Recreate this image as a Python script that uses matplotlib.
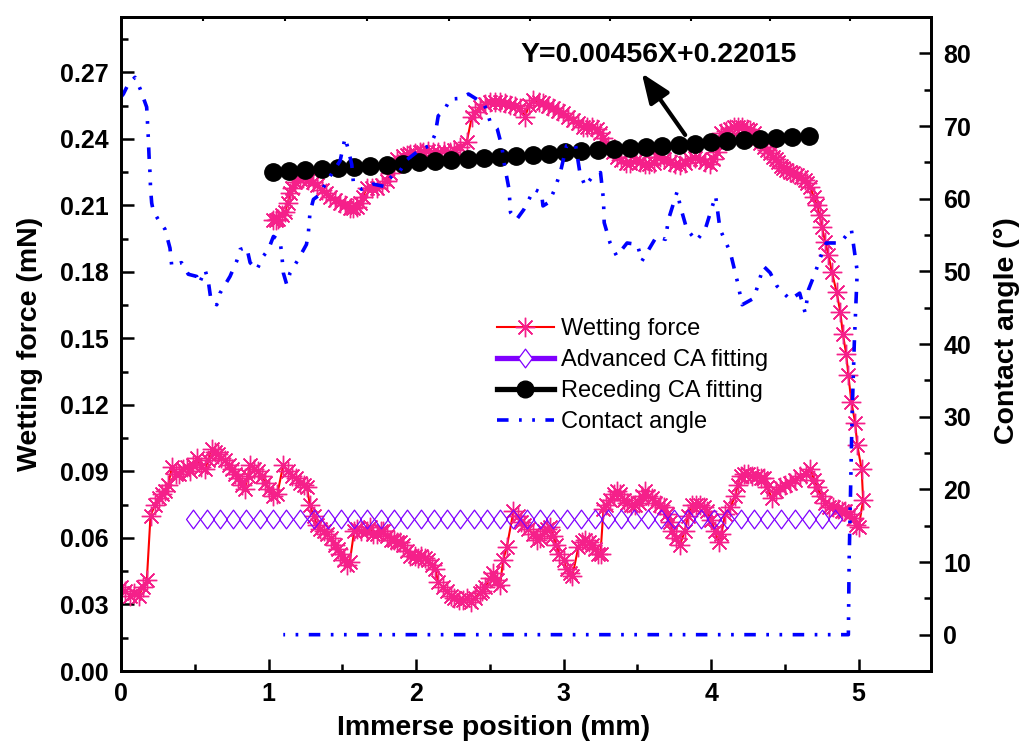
import numpy as np
import matplotlib
matplotlib.use("Agg")
import matplotlib.pyplot as plt
from matplotlib.lines import Line2D
from matplotlib.path import Path
from matplotlib.ticker import MultipleLocator, FormatStrFormatter

plt.rcParams['font.family'] = ['Liberation Sans', 'DejaVu Sans']

# wetting force (mN): immersion branch, then withdrawal branch
immersion = [
    (0.00, 0.038), (0.03, 0.036), (0.06, 0.034), (0.09, 0.035), (0.12, 0.034),
    (0.15, 0.038), (0.175, 0.041), (0.20, 0.070), (0.23, 0.075), (0.255, 0.078),
    (0.28, 0.080), (0.30, 0.081), (0.32, 0.084), (0.345, 0.092), (0.37, 0.089),
    (0.39, 0.089), (0.42, 0.091), (0.445, 0.092), (0.47, 0.090), (0.49, 0.093),
    (0.515, 0.096), (0.54, 0.092), (0.57, 0.091), (0.59, 0.095), (0.615, 0.100),
    (0.635, 0.099), (0.655, 0.098), (0.68, 0.096), (0.705, 0.095), (0.73, 0.093),
    (0.75, 0.091), (0.775, 0.089), (0.795, 0.087), (0.82, 0.084), (0.84, 0.082),
    (0.86, 0.088), (0.875, 0.093), (0.90, 0.091), (0.93, 0.090), (0.955, 0.088),
    (0.976, 0.085), (1.00, 0.082), (1.03, 0.079), (1.06, 0.080), (1.10, 0.093),
    (1.13, 0.090), (1.157, 0.088), (1.185, 0.087), (1.214, 0.085), (1.24, 0.084),
    (1.26, 0.083), (1.28, 0.075), (1.305, 0.070), (1.327, 0.066), (1.35, 0.064),
    (1.375, 0.063), (1.395, 0.062), (1.42, 0.060), (1.45, 0.057), (1.47, 0.055),
    (1.485, 0.053), (1.51, 0.050), (1.53, 0.048), (1.55, 0.049), (1.58, 0.063),
    (1.60, 0.064), (1.63, 0.063), (1.666, 0.063), (1.69, 0.065), (1.71, 0.062),
    (1.733, 0.062), (1.76, 0.063), (1.778, 0.063), (1.80, 0.061), (1.83, 0.059),
    (1.85, 0.059), (1.87, 0.058), (1.89, 0.058), (1.914, 0.057), (1.94, 0.054),
    (1.96, 0.052), (1.99, 0.052), (2.01, 0.051), (2.03, 0.052), (2.06, 0.051),
    (2.08, 0.050), (2.105, 0.048), (2.13, 0.046), (2.15, 0.040), (2.18, 0.038),
    (2.21, 0.036), (2.24, 0.034), (2.26, 0.033), (2.29, 0.032), (2.32, 0.032),
    (2.345, 0.033), (2.37, 0.031), (2.40, 0.033), (2.43, 0.035), (2.45, 0.036),
    (2.47, 0.038), (2.50, 0.042), (2.524, 0.044), (2.55, 0.041), (2.57, 0.039),
    (2.59, 0.050), (2.615, 0.056), (2.66, 0.072), (2.69, 0.070), (2.71, 0.067),
    (2.73, 0.066), (2.76, 0.064), (2.795, 0.062), (2.82, 0.059), (2.84, 0.060),
    (2.87, 0.063), (2.89, 0.064), (2.91, 0.065), (2.93, 0.061), (2.95, 0.057),
    (2.97, 0.053), (3.00, 0.050), (3.02, 0.046), (3.04, 0.044), (3.06, 0.043),
    (3.10, 0.056), (3.125, 0.058), (3.146, 0.059), (3.17, 0.058), (3.19, 0.057),
    (3.21, 0.055), (3.236, 0.053), (3.25, 0.053), (3.27, 0.073), (3.29, 0.075),
    (3.315, 0.077), (3.34, 0.080), (3.36, 0.081), (3.383, 0.080), (3.41, 0.077),
    (3.43, 0.076), (3.46, 0.075), (3.485, 0.075), (3.51, 0.076), (3.53, 0.079),
    (3.553, 0.081), (3.575, 0.079), (3.598, 0.078), (3.62, 0.076), (3.654, 0.075),
    (3.68, 0.074), (3.70, 0.071), (3.72, 0.067), (3.733, 0.063), (3.76, 0.060),
    (3.79, 0.057), (3.82, 0.063), (3.845, 0.070), (3.869, 0.075), (3.90, 0.075),
    (3.925, 0.075), (3.95, 0.074), (3.97, 0.072), (4.00, 0.068), (4.027, 0.063),
    (4.05, 0.058), (4.07, 0.062), (4.095, 0.071), (4.13, 0.074), (4.163, 0.079),
    (4.18, 0.084), (4.20, 0.088), (4.225, 0.089), (4.253, 0.089), (4.28, 0.088),
    (4.31, 0.088), (4.335, 0.087), (4.355, 0.087), (4.38, 0.083), (4.41, 0.078),
    (4.44, 0.081), (4.468, 0.083), (4.50, 0.084), (4.536, 0.085), (4.57, 0.086),
    (4.603, 0.088), (4.64, 0.089), (4.671, 0.091), (4.70, 0.086), (4.717, 0.083),
    (4.745, 0.079), (4.773, 0.076), (4.80, 0.074), (4.829, 0.074), (4.86, 0.073),
    (4.885, 0.072), (4.908, 0.072), (4.94, 0.071), (4.965, 0.069), (4.98, 0.066),
    (5.00, 0.065),
]
withdrawal = [
    (5.03, 0.077), (5.02, 0.091), (4.99, 0.102), (4.976, 0.112), (4.95, 0.1215),
    (4.93, 0.1335), (4.915, 0.143), (4.893, 0.152), (4.875, 0.162), (4.85, 0.171),
    (4.818, 0.180), (4.795, 0.1876), (4.773, 0.1936), (4.75, 0.2004), (4.735, 0.2057),
    (4.716, 0.2102), (4.694, 0.214), (4.671, 0.2184), (4.65, 0.220), (4.637, 0.2215),
    (4.61, 0.223), (4.58, 0.2237), (4.555, 0.2245), (4.535, 0.2252), (4.51, 0.226),
    (4.49, 0.2268), (4.47, 0.228), (4.456, 0.2298), (4.44, 0.231), (4.42, 0.232),
    (4.40, 0.2335), (4.377, 0.235), (4.355, 0.2365), (4.33, 0.238), (4.31, 0.240),
    (4.287, 0.2425), (4.265, 0.244), (4.242, 0.2447), (4.21, 0.2452), (4.185, 0.2455),
    (4.155, 0.2452), (4.128, 0.2447), (4.10, 0.2437), (4.07, 0.2425), (4.055, 0.238),
    (4.04, 0.234), (4.015, 0.231), (3.993, 0.2289), (3.96, 0.2295), (3.925, 0.231),
    (3.89, 0.2312), (3.857, 0.231), (3.82, 0.229), (3.79, 0.2282), (3.755, 0.2287),
    (3.722, 0.2297), (3.68, 0.231), (3.655, 0.232), (3.632, 0.232), (3.61, 0.229),
    (3.58, 0.2285), (3.55, 0.2288), (3.52, 0.2295), (3.49, 0.2305), (3.45, 0.229),
    (3.42, 0.229), (3.39, 0.2305), (3.36, 0.232), (3.335, 0.234), (3.30, 0.237),
    (3.27, 0.2402), (3.245, 0.2425), (3.225, 0.2447), (3.19, 0.2452), (3.16, 0.2455),
    (3.134, 0.2455), (3.10, 0.247), (3.066, 0.2485), (3.03, 0.250), (2.999, 0.2515),
    (2.965, 0.2527), (2.93, 0.2538), (2.895, 0.2548), (2.863, 0.256), (2.83, 0.2568),
    (2.795, 0.2575), (2.765, 0.2555), (2.74, 0.250), (2.705, 0.2538), (2.67, 0.2548),
    (2.637, 0.2553), (2.60, 0.256), (2.57, 0.2568), (2.535, 0.2568), (2.50, 0.2568),
    (2.465, 0.2558), (2.434, 0.2545), (2.40, 0.252), (2.378, 0.250), (2.344, 0.2388),
    (2.30, 0.2365), (2.26, 0.235), (2.23, 0.2342), (2.19, 0.2345), (2.15, 0.2342),
    (2.117, 0.2342), (2.08, 0.2345), (2.05, 0.234), (2.027, 0.2342), (1.99, 0.2335),
    (1.96, 0.233), (1.937, 0.2327), (1.91, 0.2325), (1.87, 0.231), (1.85, 0.228),
    (1.823, 0.2245), (1.80, 0.221), (1.77, 0.219), (1.733, 0.2177), (1.70, 0.218),
    (1.666, 0.2177), (1.64, 0.214), (1.62, 0.211), (1.60, 0.2095), (1.575, 0.209),
    (1.553, 0.2087), (1.52, 0.210), (1.485, 0.211), (1.45, 0.2125), (1.417, 0.214),
    (1.39, 0.2155), (1.36, 0.217), (1.33, 0.219), (1.304, 0.2207), (1.27, 0.2215),
    (1.236, 0.2222), (1.21, 0.222), (1.18, 0.2207), (1.16, 0.218), (1.146, 0.2155),
    (1.13, 0.211), (1.112, 0.2072), (1.09, 0.2055), (1.067, 0.204), (1.05, 0.2035),
    (1.033, 0.2034),
]

# advanced CA fitting (open diamonds)
adv_fit_x = [0.49, 0.58, 0.67, 0.76, 0.85, 0.94, 1.03, 1.12, 1.21, 1.31, 1.40, 1.49,
             1.58, 1.67, 1.76, 1.85, 1.94, 2.03, 2.12, 2.21, 2.30, 2.39, 2.48, 2.57,
             2.66, 2.75, 2.84, 2.93, 3.02, 3.12, 3.21, 3.30, 3.39, 3.48, 3.57, 3.66,
             3.75, 3.84, 3.93, 4.02, 4.11, 4.20, 4.29, 4.38, 4.47, 4.57, 4.66, 4.75, 4.84]
adv_fit_y = [0.0686] * len(adv_fit_x)

# receding CA fitting (filled circles), Y=0.00456X+0.22015
rec_fit_x = [1.03, 1.14, 1.25, 1.36, 1.47, 1.58, 1.69, 1.80, 1.91, 2.02, 2.13, 2.24,
             2.35, 2.46, 2.57, 2.68, 2.79, 2.90, 3.01, 3.12, 3.23, 3.34, 3.45, 3.56,
             3.67, 3.78, 3.89, 4.00, 4.11, 4.22, 4.33, 4.44, 4.55, 4.66]
rec_fit_y = [0.2249, 0.2254, 0.2259, 0.2264, 0.2269, 0.2274, 0.2279, 0.2284, 0.2289,
             0.2294, 0.2299, 0.2304, 0.2309, 0.2314, 0.2319, 0.2324, 0.2329, 0.2334,
             0.2339, 0.2344, 0.2349, 0.2354, 0.2359, 0.2364, 0.2369, 0.2374, 0.2379,
             0.2384, 0.2389, 0.2394, 0.2399, 0.2404, 0.2409, 0.2414]

# contact angle (deg)
angle = [
    (0.00, 74.0), (0.016, 74.4), (0.05, 75.8), (0.095, 76.7), (0.13, 75.1),
    (0.174, 72.6), (0.185, 68.4), (0.19, 65.9), (0.197, 63.4), (0.20, 61.5),
    (0.208, 59.4), (0.219, 58.3), (0.253, 57.1), (0.298, 55.8), (0.332, 53.2),
    (0.344, 50.7), (0.41, 51.2), (0.456, 49.6), (0.513, 49.3), (0.53, 48.3),
    (0.57, 50.2), (0.592, 48.6), (0.61, 46.0), (0.649, 45.4), (0.671, 47.0),
    (0.739, 49.3), (0.784, 51.4), (0.807, 53.0), (0.852, 53.3), (0.875, 51.2),
    (0.92, 50.2), (0.965, 52.1), (0.999, 53.0), (1.033, 54.8), (1.078, 54.2),
    (1.09, 52.3), (1.10, 49.8), (1.123, 48.2), (1.146, 49.8), (1.20, 51.6),
    (1.257, 53.7), (1.27, 55.3), (1.281, 58.1), (1.304, 59.9), (1.337, 60.4),
    (1.37, 61.5), (1.417, 63.1), (1.485, 65.2), (1.519, 68.4), (1.54, 66.8),
    (1.564, 64.7), (1.575, 62.2), (1.63, 61.3), (1.71, 62.0), (1.78, 61.7),
    (1.846, 63.4), (1.89, 63.8), (1.94, 65.4), (2.03, 66.8), (2.095, 67.3),
    (2.13, 68.9), (2.15, 71.4), (2.19, 72.1), (2.23, 73.7), (2.30, 73.8),
    (2.355, 74.4), (2.41, 73.7), (2.46, 73.0), (2.48, 72.1), (2.50, 70.7),
    (2.55, 69.6), (2.58, 67.3), (2.60, 64.5), (2.63, 61.3), (2.64, 58.1),
    (2.68, 57.1), (2.73, 58.5), (2.80, 61.3), (2.85, 60.8), (2.86, 59.0),
    (2.90, 59.5), (2.94, 61.3), (2.98, 63.8), (3.02, 67.3), (3.08, 67.5),
    (3.11, 63.6), (3.146, 61.7), (3.19, 62.9), (3.25, 63.6), (3.27, 59.9),
    (3.275, 56.7), (3.315, 53.9), (3.36, 52.1), (3.43, 53.9), (3.50, 53.7),
    (3.53, 51.4), (3.63, 54.8), (3.69, 54.4), (3.71, 57.1), (3.77, 61.0),
    (3.79, 59.0), (3.835, 55.8), (3.90, 54.2), (3.96, 55.8), (4.03, 60.4),
    (4.06, 55.8), (4.13, 52.6), (4.18, 48.4), (4.21, 45.4), (4.29, 46.3),
    (4.355, 50.7), (4.40, 49.8), (4.445, 48.0), (4.535, 46.1), (4.60, 47.0),
    (4.637, 44.3), (4.66, 47.5), (4.705, 49.8), (4.74, 51.9), (4.78, 53.9),
    (4.875, 53.9), (4.95, 55.8), (4.99, 50.0), (4.97, 40.0), (4.955, 30.0),
    (4.945, 20.0), (4.935, 10.0), (4.93, 0.0), (4.88, 0.0), (1.10, 0.0),
]

top_ticks = [0.556, 1.11, 1.665, 2.22, 2.77, 3.315, 3.86, 4.40, 4.94]

pink = '#F5208A'
purple = '#8000FF'
ast = (8, 2, 0)
diamond = Path([(0, 1), (0.74, 0), (0, -1), (-0.74, 0), (0, 1)], closed=True)
ca_dash = (3.2, 2.9, 0.75, 2.9, 0.75, 2.9)

wf_x = [p[0] for p in immersion + withdrawal]
wf_y = [p[1] for p in immersion + withdrawal]
ca_x = [p[0] for p in angle]
ca_y = [p[1] for p in angle]

fig = plt.figure(figsize=(10.32, 7.48), dpi=100)
ax = fig.add_axes([0.11725, 0.10294, 0.78488, 0.87433])

ax.plot(wf_x, wf_y, color='red', lw=1.5, marker=ast, ms=14,
        mec=pink, mfc=pink, mew=1.0, zorder=2)
ax.plot(adv_fit_x, adv_fit_y, ls='none', marker=diamond, ms=13.5,
        mfc='none', mec=purple, mew=0.9, zorder=3)
ax.plot(rec_fit_x, rec_fit_y, ls='none', marker='o', ms=12.5,
        color='black', zorder=4)

ax.annotate('', xy=(3.53, 0.2696), xytext=(3.824, 0.2418),
            arrowprops=dict(arrowstyle='-|>,head_length=0.6,head_width=0.24',
                            lw=3, color='black', mutation_scale=30,
                            shrinkA=0, shrinkB=0))
ax.text(2.705, 0.2747, 'Y=0.00456X+0.22015', fontsize=20.5,
        fontweight='bold', ha='left', va='baseline')

ax.set_xlim(0, 5.49)
ax.set_ylim(0, 0.295)
ax.xaxis.set_major_locator(MultipleLocator(1))
ax.xaxis.set_minor_locator(MultipleLocator(0.5))
ax.yaxis.set_major_locator(MultipleLocator(0.03))
ax.yaxis.set_minor_locator(MultipleLocator(0.015))
ax.yaxis.set_major_formatter(FormatStrFormatter('%.2f'))
ax.tick_params(which='both', direction='in', width=1.8, top=False, right=False)
ax.tick_params(which='major', length=9)
ax.tick_params(which='minor', length=5)
ax.tick_params(axis='x', which='major', pad=8)
ax.tick_params(axis='y', which='major', pad=9)
for lab in ax.get_xticklabels() + ax.get_yticklabels():
    lab.set_fontsize(18)
    lab.set_fontweight('bold')
for s in ax.spines.values():
    s.set_linewidth(2)

ax.set_xlabel('Immerse position (mm)', fontsize=20.5, fontweight='bold')
ax.set_ylabel('Wetting force (mN)', fontsize=20.5, fontweight='bold')
ax.xaxis.set_label_coords(0.4605, -0.068)
ax.yaxis.set_label_coords(-0.096, 0.5)

sec = ax.secondary_xaxis('top')
sec.set_xticks(top_ticks)
sec.tick_params(direction='in', length=3, width=1.5, labeltop=False)
sec.spines['top'].set_linewidth(2)

ax2 = ax.twinx()
ax2.plot(ca_x, ca_y, color='blue', lw=2.6, dashes=ca_dash)
ax2.set_ylim(-5, 85)
ax2.yaxis.set_major_locator(MultipleLocator(10))
ax2.yaxis.set_minor_locator(MultipleLocator(5))
ax2.set_yticks(range(0, 81, 10))
ax2.tick_params(which='both', direction='in', width=1.8)
ax2.tick_params(which='major', length=9, pad=9)
ax2.tick_params(which='minor', length=5)
for lab in ax2.get_yticklabels():
    lab.set_fontsize(18)
    lab.set_fontweight('bold')
for s in ax2.spines.values():
    s.set_linewidth(2)
ax2.set_ylabel('Contact angle (°)', fontsize=20.5, fontweight='bold')
ax2.yaxis.set_label_coords(1.078, 0.52)

handles = [
    Line2D([], [], color='red', lw=1.5, marker=ast, ms=14, mec=pink, mew=1.0),
    Line2D([], [], color=purple, lw=3.8, marker=diamond, ms=13.5, mfc='white',
           mec=purple, mew=0.9),
    Line2D([], [], color='black', lw=3.8, marker='o', ms=12),
    Line2D([], [], color='blue', lw=2.6, dashes=ca_dash),
]
labels = ['Wetting force', 'Advanced CA fitting', 'Receding CA fitting', 'Contact angle']
ax2.legend(handles, labels, loc='center left', bbox_to_anchor=(0.464, 0.452),
           frameon=False, fontsize=17, borderpad=0, borderaxespad=0,
           handlelength=2.4, handletextpad=0.3, labelspacing=0.38, numpoints=1)

fig.savefig('out.png', dpi=100)
